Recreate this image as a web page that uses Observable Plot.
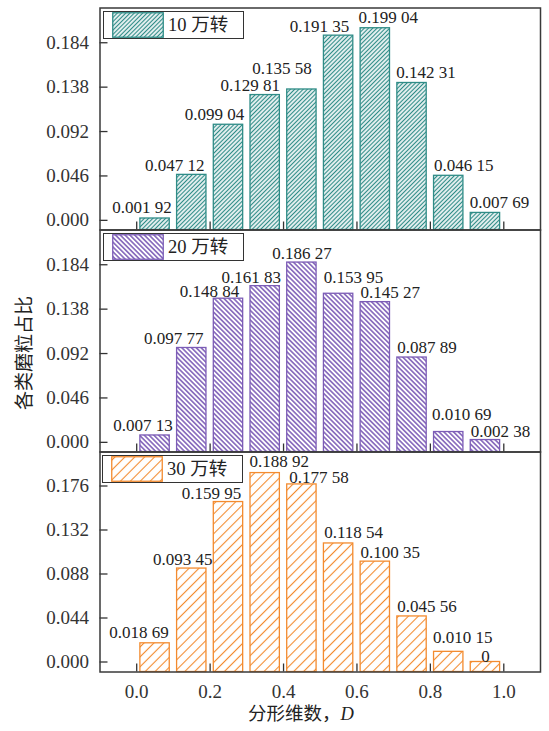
<!DOCTYPE html>
<html>
<head>
<meta charset="utf-8">
<script src="https://cdn.jsdelivr.net/npm/d3@7"></script>
<script src="https://cdn.jsdelivr.net/npm/@observablehq/plot@0.6"></script>
<style>
  body { margin: 0; background: #fff; }
  #chart { position: relative; width: 549px; height: 731px; overflow: hidden; font-family: "Liberation Serif", "Noto Sans CJK SC", serif; color: #222; }
  #chart svg.panel { position: absolute; left: 0; top: 0; }
  .legend { position: absolute; width: 141px; height: 28px; border: 1px solid #333; box-sizing: border-box; background: #fff; }
  .legend svg { position: absolute; left: 8px; top: 0.5px; }
  .legend span { position: absolute; left: 64px; top: 0; line-height: 26px; font-size: 18.5px; white-space: nowrap; }
  .ytitle { position: absolute; left: 23.5px; top: 352.5px; transform: translate(-50%, -50%) rotate(-90deg); font-size: 19px; white-space: nowrap; line-height: 1; }
  .xtitle { position: absolute; left: 248px; top: 705px; font-size: 18.5px; line-height: 1; white-space: nowrap; }
</style>
</head>
<body>
<div id="chart"></div>
<script>
// ---------- data ----------
const fractalD = [0.05, 0.15, 0.25, 0.35, 0.45, 0.55, 0.65, 0.75, 0.85, 0.95];
const share10 = [0.00192, 0.04712, 0.09904, 0.12981, 0.13558, 0.19135, 0.19904, 0.14231, 0.04615, 0.00769];
const share20 = [0.00713, 0.09777, 0.14884, 0.16183, 0.18627, 0.15395, 0.14527, 0.08789, 0.01069, 0.00238];
const share30 = [0.01869, 0.09345, 0.15995, 0.18892, 0.17758, 0.11854, 0.10035, 0.04556, 0.01015, 0];
const seriesNames = ["10 万转", "20 万转", "30 万转"];
const yTicksUpper = [0, 0.046, 0.092, 0.138, 0.184];
const yTicksLower = [0, 0.044, 0.088, 0.132, 0.176];
const xTicks = [0, 0.2, 0.4, 0.6, 0.8, 1.0];
const xTitle = "分形维数，";
const xTitleVar = "D";
const yTitle = "各类磨粒占比";

// ---------- layout / style ----------
const W = 549, H = 731, ML = 99.5, MR = 9;
const colors = ["#2f8c87", "#7c5cb6", "#f38b2f"];
const hatch = [
  {angle: 45, period: 3.0, sw: 1.3},
  {angle: -45, period: 3.4, sw: 1.5},
  {angle: 45, period: 7.0, sw: 1.1}
];
const panels = [
  {values: share10, top: 7.5, bottom: 229.5, domain: [-0.01, 0.22], ticks: yTicksUpper, legendLeft: 103},
  {values: share20, top: 229.5, bottom: 451.5, domain: [-0.01, 0.22], ticks: yTicksUpper, legendLeft: 103},
  {values: share30, top: 451.5, bottom: 671.5, domain: [-0.01, 0.21], ticks: yTicksLower, legendLeft: 102}
];
const labelDx = [
  [-13, -17, -14, -15, -20, -19, 13, 14, 15, 14],
  [-12, -18, -19, -14, 0, 15, 15, 15, 13, 15],
  [-16, -9, -17, 14, 17, 15, 15, 15, 14, 0]
];
const labelRise = [
  [5, 4, 5, 4, 15, 4, 5, 5, 5, 5],
  [4, 4, 2, 3, 4, 11, 4, 5, 12, 3],
  [5, 4, 3, 6, 1, 5, 4, 4, 9, 0]
];
const halfWidth = 0.04;
const fmtLabel = v => {
  if (v === 0) return "0";
  const s = v.toFixed(5);
  return s.slice(0, 5) + " " + s.slice(5);
};

const chart = document.getElementById("chart");
const NS = "http://www.w3.org/2000/svg";

function patternMarkup(id, k) {
  const h = hatch[k], p = h.period;
  return `<pattern id="${id}" patternUnits="userSpaceOnUse" width="${p}" height="${p}" patternTransform="rotate(${h.angle})">
    <rect width="${p}" height="${p}" fill="#fff"/>
    <line x1="${p/2}" y1="-1" x2="${p/2}" y2="${p+1}" stroke="${colors[k]}" stroke-width="${h.sw}"/>
  </pattern>`;
}

panels.forEach((pn, k) => {
  const rows = fractalD.map((d, i) => ({d, v: pn.values[i], label: fmtLabel(pn.values[i])}));
  const frameH = pn.bottom - pn.top;
  const frameW = W - ML - MR;
  const pid = `hatch${k}`;
  const isLast = k === panels.length - 1;

  const labelMarks = rows.map((r, i) => Plot.text([r], {
    x: "d", y: "v", text: "label",
    dx: labelDx[k][i], dy: -labelRise[k][i],
    lineAnchor: "bottom", textAnchor: "middle",
    fontSize: 17, fill: "#222"
  }));

  const svg = Plot.plot({
    width: W, height: H,
    marginLeft: ML, marginRight: MR,
    marginTop: pn.top, marginBottom: H - pn.bottom,
    x: {domain: [-0.1, 1.1], axis: null},
    y: {domain: pn.domain},
    style: {
      fontFamily: '"Liberation Serif", "Noto Sans CJK SC", serif',
      fontSize: "19px", color: "#333", background: "transparent", overflow: "visible"
    },
    marks: [
      Plot.rect(rows, {
        x1: r => r.d - halfWidth, x2: r => r.d + halfWidth,
        y1: pn.domain[0], y2: "v",
        fill: `url(#${pid})`, stroke: colors[k], strokeWidth: 1.3
      }),
      Plot.tickY(pn.ticks, {y: d => d, insetRight: frameW - 8, stroke: "#333", strokeWidth: 1.3}),
      Plot.tickX(xTicks, {x: d => d, insetTop: frameH - 8, stroke: "#333", strokeWidth: 1.3}),
      Plot.axisY(pn.ticks, {tickSize: 0, tickPadding: 11, tickFormat: d3.format(".3f"), label: null}),
      isLast ? Plot.axisX(xTicks, {tickSize: 0, tickPadding: 12, tickFormat: d3.format(".1f"), label: null}) : null,
      Plot.frame({stroke: "#3a3a3a", strokeWidth: 1.5}),
      ...labelMarks
    ]
  });
  svg.classList.add("panel");
  const defs = document.createElementNS(NS, "defs");
  defs.innerHTML = patternMarkup(pid, k);
  svg.insertBefore(defs, svg.firstChild);
  chart.appendChild(svg);

  // legend
  const lg = document.createElement("div");
  lg.className = "legend";
  lg.style.left = pn.legendLeft + "px";
  lg.style.top = (pn.top + 3) + "px";
  lg.innerHTML = `<svg width="52" height="26"><rect x="0.75" y="0.75" width="50.5" height="24.5" fill="url(#${pid})" stroke="${colors[k]}" stroke-width="1.3"/></svg><span>${seriesNames[k]}</span>`;
  chart.appendChild(lg);
});

const yt = document.createElement("div");
yt.className = "ytitle";
yt.textContent = yTitle;
chart.appendChild(yt);

const xt = document.createElement("div");
xt.className = "xtitle";
xt.innerHTML = `${xTitle}<i>${xTitleVar}</i>`;
chart.appendChild(xt);
</script>
</body>
</html>
